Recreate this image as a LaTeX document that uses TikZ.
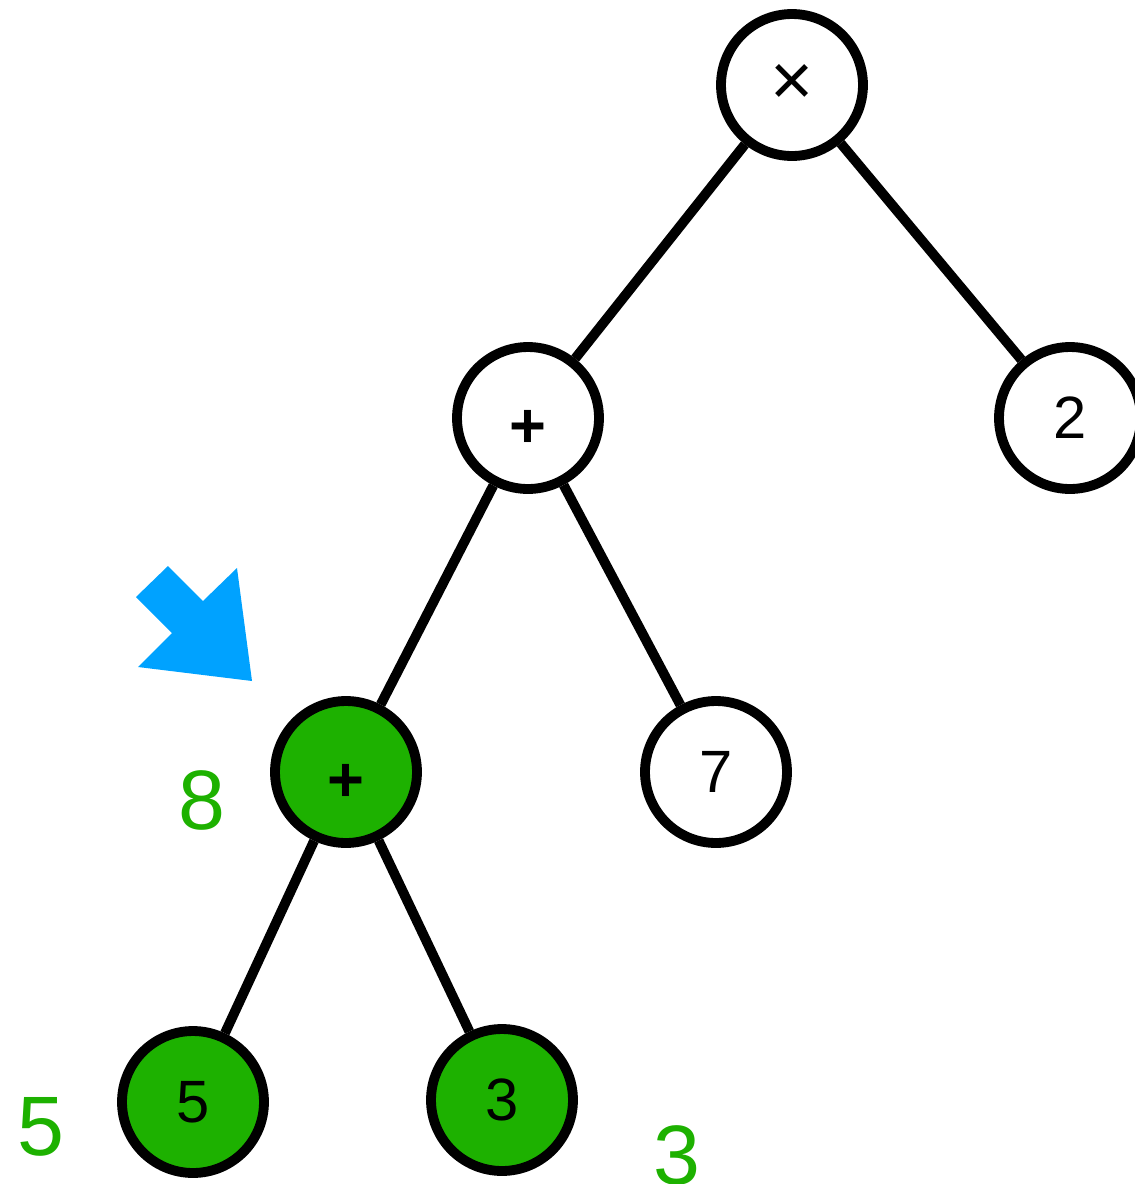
\documentclass[tikz,border=0pt]{standalone}
\usepackage{fontspec}
\setmainfont{Liberation Sans}
\usepackage{tikz}
\usepackage{xcolor}
\usetikzlibrary{positioning}
\definecolor{evalgreen}{HTML}{1DB100}
\definecolor{pointblue}{HTML}{00A2FF}
\tikzstyle{opnode} = [draw=black, circle, line width=5.6pt, minimum size=2.84cm, inner sep=0pt, fill=white, font=\fontsize{34}{34}\selectfont]
\tikzstyle{donenode} = [opnode, fill=evalgreen]
\tikzstyle{plussign} = [font=\fontsize{36}{36}\selectfont\bfseries, text height=1.18cm, text depth=0pt]
\tikzstyle{result} = [text=evalgreen, inner sep=0pt, font=\fontsize{48}{48}\selectfont]
\tikzstyle{edge} = [line width=5.6pt]

\begin{document}
\begin{tikzpicture}[x=0.02cm, y=-0.02cm]
    % Page frame
    \useasboundingbox (0,0) rectangle (1134,1184);

    % Tree nodes
    \node (times) [opnode, font=\fontsize{42}{42}\selectfont] at (792,85) {×};
    \node (plusA) [opnode, plussign] at (528,418) {+};
    \node (two) [opnode] at (1070,418) {2};
    \node (plusB) [donenode, plussign] at (346,772) {+};
    \node (seven) [opnode] at (716,772) {7};
    \node (five) [donenode] at (193,1102) {5};
    \node (three) [donenode] at (502,1100) {3};

    % Edges
    \draw[edge] (times) -- (plusA);
    \draw[edge] (times) -- (two);
    \draw[edge] (plusA) -- (plusB);
    \draw[edge] (plusA) -- (seven);
    \draw[edge] (plusB) -- (five);
    \draw[edge] (plusB) -- (three);

    % Computed values
    \node (valB) [result] at (202,800) {8};
    \node (valfive) [result] at (41,1127) {5};
    \node (valthree) [result] at (677,1155) {3};

    % Pointer arrow
    \fill[pointblue] (168,566) -- (203,601) -- (237,568) -- (252,681) -- (138,667) -- (172,633) -- (136,597) -- cycle;
\end{tikzpicture}
\end{document}
